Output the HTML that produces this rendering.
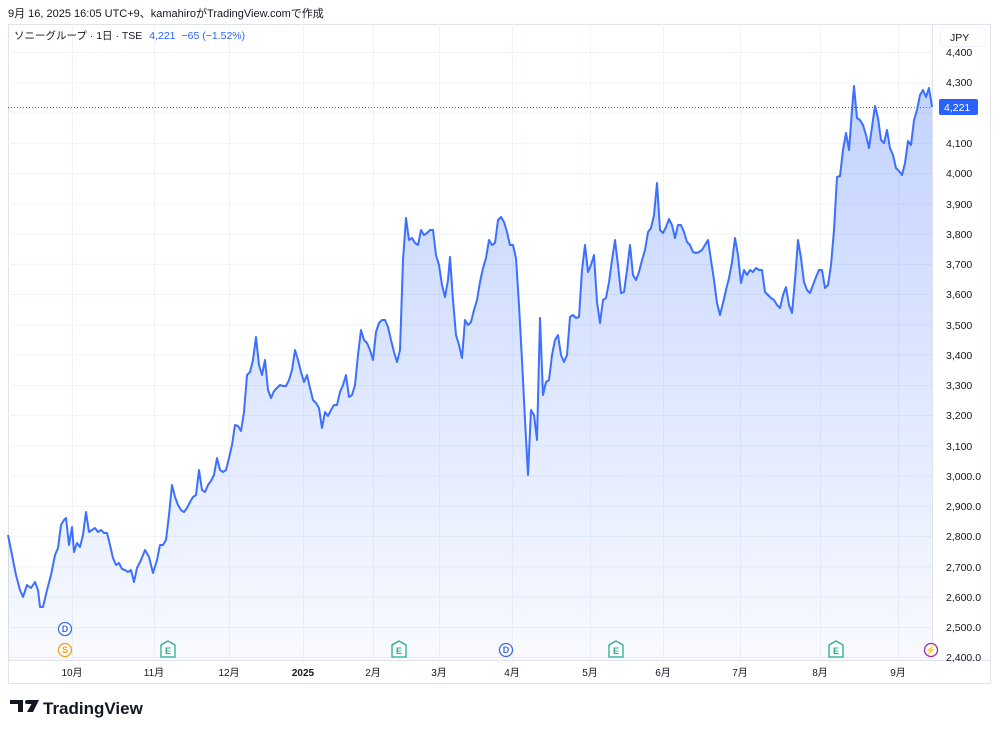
<!DOCTYPE html>
<html><head><meta charset="utf-8"><style>
body{margin:0;width:1000px;height:733px;background:#fff;font-family:"Liberation Sans","Noto Sans CJK JP",sans-serif;overflow:hidden}
</style></head><body>
<svg width="1000" height="733" viewBox="0 0 1000 733" xmlns="http://www.w3.org/2000/svg" style="position:absolute;left:0;top:0">
<defs><linearGradient id="g" x1="0" y1="0" x2="0" y2="1">
<stop offset="0" stop-color="#2962ff" stop-opacity="0.28"/><stop offset="1" stop-color="#2962ff" stop-opacity="0.03"/></linearGradient></defs>
<text x="8" y="17" font-size="11" fill="#131722">9月 16, 2025 16:05 UTC+9、kamahiroがTradingView.comで作成</text>
<rect x="8.5" y="24.5" width="982" height="659" fill="none" stroke="#e0e3eb"/>
<line x1="932.5" y1="24" x2="932.5" y2="660" stroke="#e0e3eb"/>
<line x1="8" y1="660.5" x2="990" y2="660.5" stroke="#e0e3eb"/>
<g stroke="#f0f3fa" stroke-width="1">
<line x1="8" x2="932" y1="52.5" y2="52.5"/><line x1="8" x2="932" y1="83" y2="83"/><line x1="8" x2="932" y1="113" y2="113"/><line x1="8" x2="932" y1="143.5" y2="143.5"/><line x1="8" x2="932" y1="173.5" y2="173.5"/><line x1="8" x2="932" y1="204" y2="204"/><line x1="8" x2="932" y1="234" y2="234"/><line x1="8" x2="932" y1="264.5" y2="264.5"/><line x1="8" x2="932" y1="294.5" y2="294.5"/><line x1="8" x2="932" y1="325" y2="325"/><line x1="8" x2="932" y1="355" y2="355"/><line x1="8" x2="932" y1="385.5" y2="385.5"/><line x1="8" x2="932" y1="415.5" y2="415.5"/><line x1="8" x2="932" y1="446" y2="446"/><line x1="8" x2="932" y1="476" y2="476"/><line x1="8" x2="932" y1="506.5" y2="506.5"/><line x1="8" x2="932" y1="536.5" y2="536.5"/><line x1="8" x2="932" y1="567" y2="567"/><line x1="8" x2="932" y1="597" y2="597"/><line x1="8" x2="932" y1="627.5" y2="627.5"/><line x1="8" x2="932" y1="657.5" y2="657.5"/>
<line y1="24" y2="660" x1="72.5" x2="72.5"/><line y1="24" y2="660" x1="154.5" x2="154.5"/><line y1="24" y2="660" x1="229.5" x2="229.5"/><line y1="24" y2="660" x1="303.5" x2="303.5"/><line y1="24" y2="660" x1="373.5" x2="373.5"/><line y1="24" y2="660" x1="439.5" x2="439.5"/><line y1="24" y2="660" x1="512.5" x2="512.5"/><line y1="24" y2="660" x1="590.5" x2="590.5"/><line y1="24" y2="660" x1="663.5" x2="663.5"/><line y1="24" y2="660" x1="740.5" x2="740.5"/><line y1="24" y2="660" x1="820.5" x2="820.5"/><line y1="24" y2="660" x1="898.5" x2="898.5"/>
</g>
<path id="p" fill="url(#g)" stroke="none" d="M8,535 L12,555 16,575 20,590 23,597 27,585 31,588 35,582 38,590 40,607 43,607 47,590 51,575 55,555 58,548 61,525 64,520 66,518 69,545 72,527 74,552 77,543 80,547 83,535 86,512 89,532 92,530 95,528 98,532 101,530 104,533 107,533 110,545 113,558 116,565 119,563 122,569 125,570 128,572 131,570 134,582 137,568 141,560 145,550 149,557 153,573 157,560 160,545 163,545 166,540 169,515 172,485 175,497 178,505 181,510 184,512 187,508 190,502 193,497 196,495 199,470 202,490 205,492 208,485 211,481 214,475 217,458 220,470 223,472 226,470 229,458 232,445 235,425 238,426 241,431 244,412 247,375 250,372 253,360 256,337 259,365 262,375 265,360 268,390 271,398 274,391 277,388 280,385 283,386 286,386 289,380 292,370 295,350 298,360 301,372 304,382 307,375 310,388 313,400 316,403 319,408 322,428 325,412 328,416 331,410 334,405 337,405 340,392 343,385 346,375 349,397 352,395 355,385 358,355 361,330 364,340 367,343 370,350 373,360 376,332 379,323 382,320 385,320 388,327 391,340 394,352 397,362 400,350 403,260 406,218 409,240 412,238 415,243 418,245 421,230 424,235 427,233 430,230 433,230 436,255 439,265 442,285 445,297 448,280 450,257 453,300 456,335 459,345 462,358 465,320 468,325 471,322 474,310 477,300 480,282 483,268 486,258 489,240 492,245 495,243 498,220 501,217 504,222 507,232 510,245 513,245 516,258 519,305 522,360 525,420 528,475 531,410 534,415 537,440 540,318 543,395 546,382 549,380 552,355 555,340 558,335 561,355 564,362 567,355 570,317 573,315 576,318 579,317 582,270 585,245 588,272 591,265 594,255 597,302 600,323 603,300 606,298 609,282 612,260 615,240 618,265 621,293 624,292 627,270 630,245 633,275 636,280 639,272 642,260 645,250 648,232 651,228 654,215 657,183 660,230 663,233 666,227 669,219 672,225 675,238 678,225 681,225 684,232 687,242 690,245 693,252 696,253 699,252 702,250 705,245 708,240 711,260 714,280 717,303 720,315 723,303 726,290 729,278 732,262 735,238 738,255 741,283 744,270 747,275 750,270 753,272 756,268 759,270 762,270 765,292 768,295 771,298 774,300 777,305 780,308 783,295 786,287 789,305 792,313 795,280 798,240 801,258 804,282 807,290 810,293 813,285 816,277 819,270 822,270 825,288 828,285 831,265 834,230 837,177 840,176 843,150 846,133 849,150 852,110 854,86 857,118 860,120 863,125 866,135 869,148 872,127 875,106 878,118 881,140 884,143 887,130 890,148 893,155 896,168 899,171 902,175 905,163 908,141 911,145 914,120 917,110 920,95 923,90 926,97 929,88 932,107 L932,660 L8,660 Z"/>
<path fill="none" stroke="#2962ff" stroke-opacity="0.9" stroke-width="2" stroke-linejoin="round" d="M8,535 L12,555 16,575 20,590 23,597 27,585 31,588 35,582 38,590 40,607 43,607 47,590 51,575 55,555 58,548 61,525 64,520 66,518 69,545 72,527 74,552 77,543 80,547 83,535 86,512 89,532 92,530 95,528 98,532 101,530 104,533 107,533 110,545 113,558 116,565 119,563 122,569 125,570 128,572 131,570 134,582 137,568 141,560 145,550 149,557 153,573 157,560 160,545 163,545 166,540 169,515 172,485 175,497 178,505 181,510 184,512 187,508 190,502 193,497 196,495 199,470 202,490 205,492 208,485 211,481 214,475 217,458 220,470 223,472 226,470 229,458 232,445 235,425 238,426 241,431 244,412 247,375 250,372 253,360 256,337 259,365 262,375 265,360 268,390 271,398 274,391 277,388 280,385 283,386 286,386 289,380 292,370 295,350 298,360 301,372 304,382 307,375 310,388 313,400 316,403 319,408 322,428 325,412 328,416 331,410 334,405 337,405 340,392 343,385 346,375 349,397 352,395 355,385 358,355 361,330 364,340 367,343 370,350 373,360 376,332 379,323 382,320 385,320 388,327 391,340 394,352 397,362 400,350 403,260 406,218 409,240 412,238 415,243 418,245 421,230 424,235 427,233 430,230 433,230 436,255 439,265 442,285 445,297 448,280 450,257 453,300 456,335 459,345 462,358 465,320 468,325 471,322 474,310 477,300 480,282 483,268 486,258 489,240 492,245 495,243 498,220 501,217 504,222 507,232 510,245 513,245 516,258 519,305 522,360 525,420 528,475 531,410 534,415 537,440 540,318 543,395 546,382 549,380 552,355 555,340 558,335 561,355 564,362 567,355 570,317 573,315 576,318 579,317 582,270 585,245 588,272 591,265 594,255 597,302 600,323 603,300 606,298 609,282 612,260 615,240 618,265 621,293 624,292 627,270 630,245 633,275 636,280 639,272 642,260 645,250 648,232 651,228 654,215 657,183 660,230 663,233 666,227 669,219 672,225 675,238 678,225 681,225 684,232 687,242 690,245 693,252 696,253 699,252 702,250 705,245 708,240 711,260 714,280 717,303 720,315 723,303 726,290 729,278 732,262 735,238 738,255 741,283 744,270 747,275 750,270 753,272 756,268 759,270 762,270 765,292 768,295 771,298 774,300 777,305 780,308 783,295 786,287 789,305 792,313 795,280 798,240 801,258 804,282 807,290 810,293 813,285 816,277 819,270 822,270 825,288 828,285 831,265 834,230 837,177 840,176 843,150 846,133 849,150 852,110 854,86 857,118 860,120 863,125 866,135 869,148 872,127 875,106 878,118 881,140 884,143 887,130 890,148 893,155 896,168 899,171 902,175 905,163 908,141 911,145 914,120 917,110 920,95 923,90 926,97 929,88 932,107"/>
<line x1="8" x2="932" y1="107.5" y2="107.5" stroke="#2962ff" stroke-dasharray="1 2"/>
<text x="14" y="39" font-size="10.5" fill="#131722">ソニーグループ · 1日 · TSE <tspan fill="#2962ff" dx="4">4,221</tspan><tspan fill="#2962ff" dx="6">−65 (−1.52%)</tspan></text>
<rect x="940.5" y="27.5" width="45" height="19" rx="4" fill="#fff" stroke="#f0f3fa"/>
<text x="950" y="41" font-size="10.5" fill="#131722">JPY</text>
<g font-size="10.5" fill="#131722">
<text x="946" y="56">4,400</text><text x="946" y="86">4,300</text><text x="946" y="147">4,100</text><text x="946" y="177">4,000</text><text x="946" y="208">3,900</text><text x="946" y="238">3,800</text><text x="946" y="268">3,700</text><text x="946" y="298">3,600</text><text x="946" y="329">3,500</text><text x="946" y="359">3,400</text><text x="946" y="389">3,300</text><text x="946" y="419">3,200</text><text x="946" y="450">3,100</text><text x="946" y="480">3,000.0</text><text x="946" y="510">2,900.0</text><text x="946" y="540">2,800.0</text><text x="946" y="571">2,700.0</text><text x="946" y="601">2,600.0</text><text x="946" y="631">2,500.0</text><text x="946" y="661">2,400.0</text>
</g>
<rect x="939" y="99" width="39" height="16" rx="2" fill="#2962ff"/>
<text x="944" y="111" font-size="10.5" fill="#fff">4,221</text>
<g font-size="10" fill="#131722" text-anchor="middle">
<text x="72" y="676">10月</text><text x="154" y="676">11月</text><text x="229" y="676">12月</text><text x="303" y="676" font-weight="bold">2025</text><text x="373" y="676">2月</text><text x="439" y="676">3月</text><text x="512" y="676">4月</text><text x="590" y="676">5月</text><text x="663" y="676">6月</text><text x="740" y="676">7月</text><text x="820" y="676">8月</text><text x="898" y="676">9月</text>
</g>
<g font-size="9" font-weight="bold" text-anchor="middle">
<circle cx="65" cy="629" r="6.5" fill="#fff" stroke="#3d6be0" stroke-width="1.3"/><text x="65" y="632" fill="#3d6be0">D</text>
<circle cx="65" cy="650" r="6.5" fill="#fff" stroke="#f0a020" stroke-width="1.3"/><text x="65" y="653" fill="#f0a020">S</text>
<circle cx="506" cy="650" r="6.5" fill="#fff" stroke="#3d6be0" stroke-width="1.3"/><text x="506" y="653" fill="#3d6be0">D</text>
<circle cx="931" cy="650" r="6.5" fill="#fff" stroke="#9c27b0" stroke-width="1.3"/><text x="931" y="653" fill="#9c27b0">⚡</text>
</g>
<g font-size="9" font-weight="bold" text-anchor="middle" fill="#22ab94">
<path d="M161,645 L168,641 L175,645 L175,657 L161,657 Z" fill="#fff" stroke="#22ab94" stroke-width="1.3"/><text x="168" y="654">E</text>
<path d="M392,645 L399,641 L406,645 L406,657 L392,657 Z" fill="#fff" stroke="#22ab94" stroke-width="1.3"/><text x="399" y="654">E</text>
<path d="M609,645 L616,641 L623,645 L623,657 L609,657 Z" fill="#fff" stroke="#22ab94" stroke-width="1.3"/><text x="616" y="654">E</text>
<path d="M829,645 L836,641 L843,645 L843,657 L829,657 Z" fill="#fff" stroke="#22ab94" stroke-width="1.3"/><text x="836" y="654">E</text>
</g>
<path d="M10,700 h13 v12 h-5 v-8 h-8 Z M27,700 h12 l-6,12 h-6 l4.5,-8 h-4.5 Z" fill="#131722"/>
<circle cx="27" cy="702" r="2" fill="#131722"/>
<text x="43" y="714" font-size="17" font-weight="bold" fill="#131722">TradingView</text>
</svg>
</body></html>
